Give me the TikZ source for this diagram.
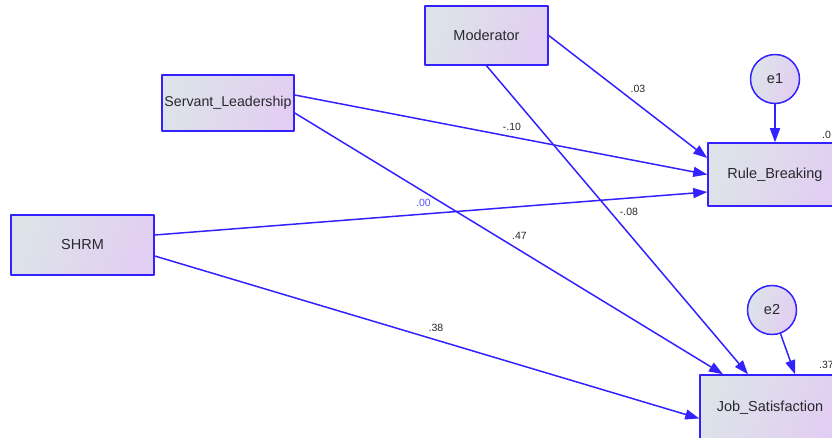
\documentclass[tikz,border=0pt]{standalone}
\usepackage{fontspec}
\setmainfont{Liberation Sans}
\usetikzlibrary{arrows.meta}

\definecolor{amosblue}{RGB}{51,34,255}
\definecolor{amoslabel}{RGB}{85,85,255}
\definecolor{boxleft}{RGB}{221,227,232}
\definecolor{boxright}{RGB}{226,206,242}
\definecolor{txtgrey}{RGB}{40,40,45}

\tikzset{
  obsvar/.style={draw=amosblue,line width=1.5pt,left color=boxleft,right color=boxright,
    shading angle=70,text=txtgrey,font=\fontsize{14.5}{16}\selectfont,inner sep=0pt},
  errvar/.style={obsvar,circle,minimum size=49pt},
  coef/.style={text=txtgrey,font=\fontsize{10.5}{12}\selectfont,inner sep=0pt},
  path/.style={draw=amosblue,line width=1.5pt,-{Triangle[length=14pt,width=10pt]}}
}

\begin{document}
\begin{tikzpicture}[line cap=round,line join=round,x=1pt,y=-1pt]
      \useasboundingbox (0,0) rectangle (832,438);

      % Exogenous variables
      \node[obsvar,minimum width=123pt,minimum height=59pt] (mod) at (486.5,35.5) {Moderator};
      \node[obsvar,minimum width=132pt,minimum height=56pt] (sl) at (228,103) {\fontsize{14.2}{16}\selectfont Servant\_Leadership};
      \node[obsvar,minimum width=143pt,minimum height=60pt] (shrm) at (82.5,245) {SHRM};

      % Endogenous variables and their errors
      \node[obsvar,minimum width=134pt,minimum height=63pt] (rb) at (775,174.5) {Rule\_Breaking};
      \node[obsvar,minimum width=140pt,minimum height=66pt] (js) at (770,408) {Job\_Satisfaction};
      \node[errvar] (e1) at (775,79) {e1};
      \node[errvar] (e2) at (772,310) {e2};

      % Paths to Rule_Breaking
      \draw[path] (mod.east) -- ([yshift=16.5pt]rb.west);
      \draw[path] ([yshift=8pt]sl.east) -- (rb.west);
      \draw[path] ([yshift=10pt]shrm.east) -- ([yshift=-17.5pt]rb.west);
      \draw[path] (e1) -- (rb.north);

      % Paths to Job_Satisfaction
      \draw[path] (mod.south) -- ([xshift=-22pt]js.north);
      \draw[path] ([yshift=-10pt]sl.east) -- ([xshift=-47pt]js.north);
      \draw[path] ([yshift=-11pt]shrm.east) -- ([yshift=-10.5pt]js.west);
      \draw[path] (e2) -- ([xshift=25pt]js.north);

      % Standardized estimates
      \node[coef] (c1) at (638,89) {.03};
      \node[coef] (c2) at (512,127) {-.10};
      \node[coef,text=amoslabel] (c3) at (423.5,203) {.00};
      \node[coef] (c4) at (629,212) {-.08};
      \node[coef] (c5) at (519.5,236) {.47};
      \node[coef] (c6) at (436,328) {.38};

      % Squared multiple correlations
      \node[coef,anchor=west] (r1) at (822,135) {.0};
      \node[coef,anchor=west] (r2) at (819,365) {.37};
    \end{tikzpicture}
\end{document}
